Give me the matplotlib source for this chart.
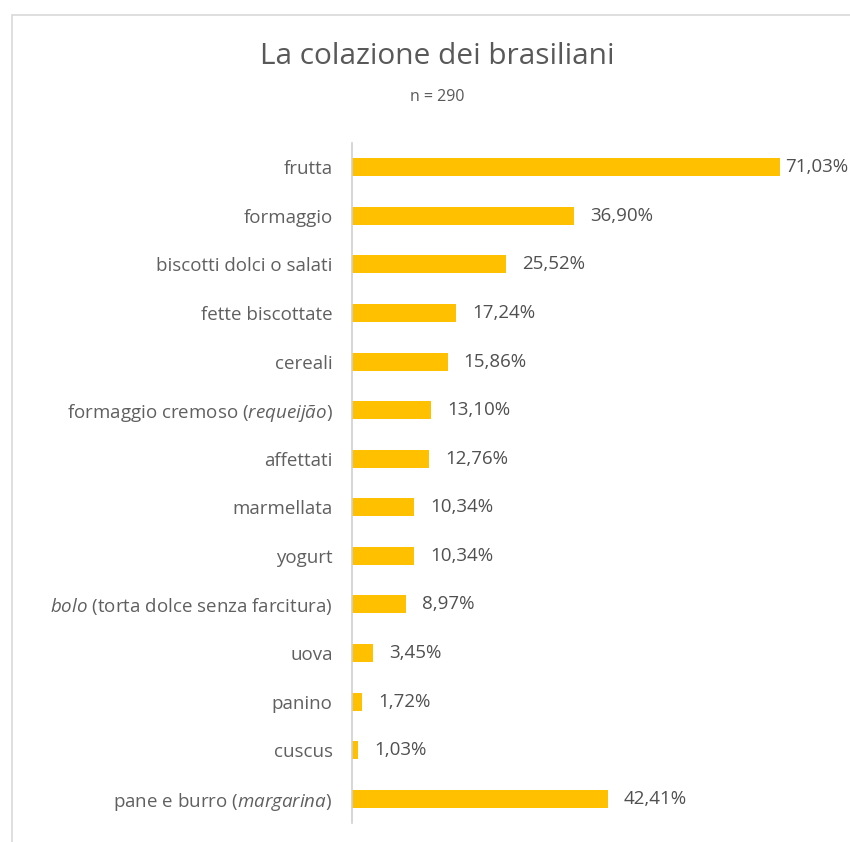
import matplotlib.pyplot as plt
from matplotlib.patches import Rectangle

plt.rcParams['font.family'] = ['Open Sans', 'DejaVu Sans']
plt.rcParams['mathtext.fontset'] = 'custom'
plt.rcParams['mathtext.rm'] = 'Open Sans'
plt.rcParams['mathtext.it'] = 'Open Sans:italic'

# data, top to bottom as in the picture
categories = [
    'frutta',
    'formaggio',
    'biscotti dolci o salati',
    'fette biscottate',
    'cereali',
    r'formaggio cremoso ($\mathit{requeijão}$)',
    'affettati',
    'marmellata',
    'yogurt',
    r'$\mathit{bolo}$ (torta dolce senza farcitura)',
    'uova',
    'panino',
    'cuscus',
    r'pane e burro ($\mathit{margarina}$)',
]
values = [71.03, 36.90, 25.52, 17.24, 15.86, 13.10, 12.76,
          10.34, 10.34, 8.97, 3.45, 1.72, 1.03, 42.41]
value_labels = ['71,03%', '36,90%', '25,52%', '17,24%', '15,86%', '13,10%', '12,76%',
                '10,34%', '10,34%', '8,97%', '3,45%', '1,72%', '1,03%', '42,41%']

W, H = 850, 842
fig = plt.figure(figsize=(W / 100, H / 100), dpi=100)

# axes placed in pixel terms: spine at x=352, bar rows from y=143 to y=823
ax_left, ax_right = 352, 852
ax_top, ax_bot = 143, 823
px_per_pct = 6.026
ax = fig.add_axes([ax_left / W, 1 - ax_bot / H, (ax_right - ax_left) / W, (ax_bot - ax_top) / H])

ypos = list(range(len(categories)))
ax.barh(ypos, values, height=0.37, color='#FFC000', zorder=2)
ax.set_ylim(len(categories) - 0.5, -0.5)
ax.set_xlim(0, (ax_right - ax_left) / px_per_pct)

for y, v, lab in zip(ypos, values, value_labels):
    # labels that would run off the edge sit closer to the bar (as Excel does)
    end_px = ax_left + v * px_per_pct
    gap = 11.5 if end_px + 16 + 62 < W else 4
    ax.annotate(lab, (v, y), xytext=(gap, 0), textcoords='offset points',
                va='center', ha='left', fontsize=13.5, color='#505050')

ax.set_yticks(ypos)
ax.set_yticklabels(categories, fontsize=13.5, color='#606060')
ax.tick_params(axis='y', length=0, pad=14)
ax.set_xticks([])
for s in ['top', 'right', 'bottom']:
    ax.spines[s].set_visible(False)
ax.spines['left'].set_color('#D0D0D0')
ax.spines['left'].set_linewidth(1.2)

# titles
fig.text(437 / W, 1 - 57 / H, 'La colazione dei brasiliani', ha='center', va='center',
         fontsize=21.5, color='#595959')
fig.text(437 / W, 1 - 97 / H, 'n = 290', ha='center', va='center',
         fontsize=11.5, color='#595959')

# chart-area border, running off the right and bottom edges
fig.patches.append(Rectangle((12 / W, -0.1), 1.2, 1 - 15 / H + 0.1, transform=fig.transFigure,
                             fill=False, edgecolor='#D9D9D9', linewidth=1.2))

fig.savefig('out.png', dpi=100)
